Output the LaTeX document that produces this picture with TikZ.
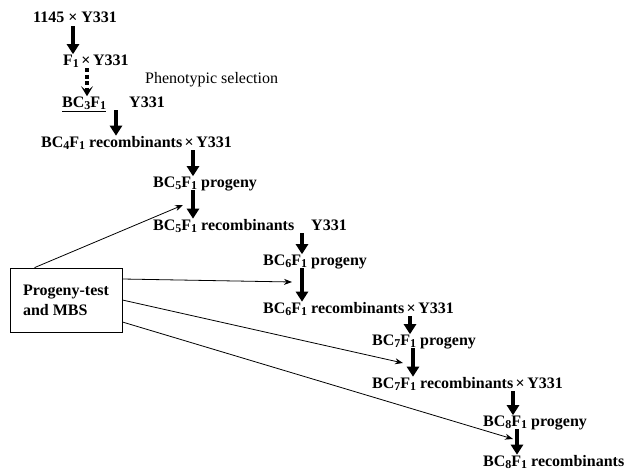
\documentclass[tikz,border=0pt]{standalone}
\usepackage{fontspec}
\setmainfont{Liberation Serif}
\usetikzlibrary{arrows.meta,positioning,calc}
\newcommand{\sbs}[1]{\raisebox{-2.5pt}{\fontsize{12}{12}\selectfont#1}}
\newcommand{\bcf}[1]{BC\sbs{#1}F\sbs{1}}
\newcommand{\crs}{\hspace{2.5pt}×\hspace{2.5pt}}

\begin{document}
\begin{tikzpicture}[x=1pt,y=-1pt,
  lbl/.style={anchor=base west,inner sep=0pt,font=\fontsize{16}{19}\selectfont\bfseries},
  down/.style={-{Triangle[length=10pt,width=12pt]},line width=3.5pt,shorten <=3pt},
  dotdown/.style={-{Stealth[length=10pt,width=12pt,inset=5pt]},line width=3.5pt,dash pattern=on 4pt off 2.5pt,shorten <=3pt},
  link/.style={-{Stealth[length=8pt,width=6pt]},line width=0.8pt}]
  \useasboundingbox (0,0) rectangle (625,471);

  % crossing scheme
  \node[lbl] (n0) at (33,23) {1145 × Y331};
  \node[lbl] (n1) at (63,65) {F\sbs{1}\crs Y331};
  \node[lbl,font=\fontsize{16}{19}\selectfont] (sel) at (145,83) {Phenotypic selection};
  \node[lbl] (n2) at (62,107) {\underline{\bcf{3}}};
  \node[lbl] (y2) at (129,107) {Y331};
  \node[lbl] (n3) at (41,147) {\bcf{4} recombinants\crs Y331};
  \node[lbl] (n4) at (153,187) {\bcf{5} progeny};
  \node[lbl] (n5) at (153,230) {\bcf{5} recombinants\hspace{17pt}Y331};
  \node[lbl] (n6) at (263,265) {\bcf{6} progeny};
  \node[lbl] (n7) at (263,313) {\bcf{6} recombinants\crs Y331};
  \node[lbl] (n8) at (372,345) {\bcf{7} progeny};
  \node[lbl] (n9) at (372,388) {\bcf{7} recombinants\crs Y331};
  \node[lbl] (n10) at (483,426) {\bcf{8} progeny};
  \node[lbl] (n11) at (483,466) {\bcf{8} recombinants};

  \node[draw,line width=0.8pt,minimum width=112pt,minimum height=64pt,align=left,
        font=\fontsize{16}{20}\selectfont\bfseries] (box) at (66,300) {Progeny-test\\and MBS};

  % x positions of the generation arrows
  \coordinate (a0) at (73,0);
  \coordinate (a1) at (87,0);
  \coordinate (a2) at (116,0);
  \coordinate (a3) at (193,0);
  \coordinate (a5) at (302,0);
  \coordinate (a7) at (410,0);
  \coordinate (a8) at (413,0);
  \coordinate (a9) at (513,0);
  \coordinate (a10) at (517,0);

  \draw[down] (n0.base -| a0) -- (n1.north -| a0);
  \draw[dotdown] (n1.base -| a1) -- (n2.north -| a1);
  \draw[down] (n2.base -| a2) -- (n3.north -| a2);
  \draw[down] (n3.base -| a3) -- (n4.north -| a3);
  \draw[down] (n4.base -| a3) -- (n5.north -| a3);
  \draw[down] (n5.base -| a5) -- (n6.north -| a5);
  \draw[down] (n6.base -| a5) -- (n7.north -| a5);
  \draw[down] (n7.base -| a7) -- (n8.north -| a7);
  \draw[down] (n8.base -| a8) -- (n9.north -| a8);
  \draw[down] (n9.base -| a9) -- (n10.north -| a9);
  \draw[down] (n10.base -| a10) -- (n11.north -| a10);

  % progeny-test links
  \coordinate (p1) at (183,205);
  \coordinate (p2) at (292,282);
  \coordinate (p3) at (403,363);
  \coordinate (p4) at (513,439);
  \draw[link] ([xshift=25pt]box.north west) -- (p1);
  \draw[link] ([yshift=21pt]box.east) -- (p2);
  \draw[link] (box.east) -- (p3);
  \draw[link] ([yshift=-22pt]box.east) -- (p4);
\end{tikzpicture}
\end{document}
